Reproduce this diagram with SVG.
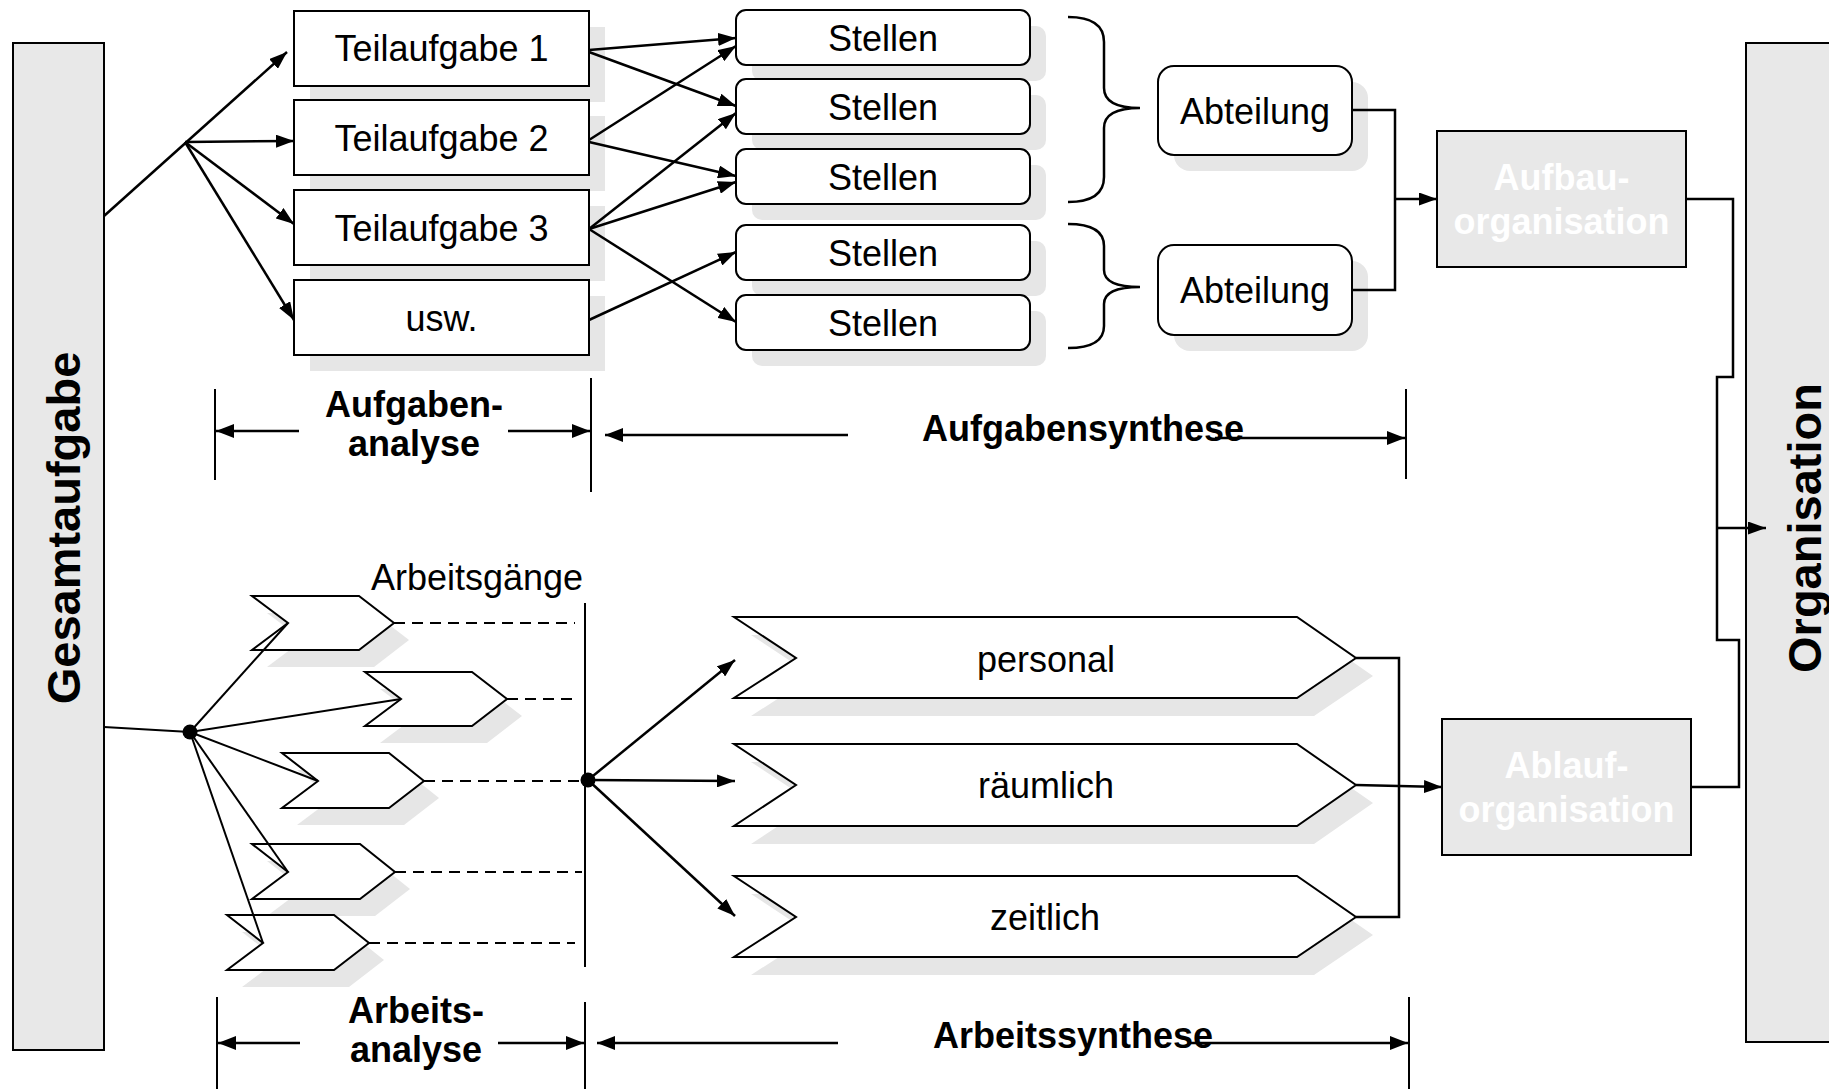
<svg xmlns="http://www.w3.org/2000/svg" width="1829" height="1089" viewBox="0 0 1829 1089">
  <defs>
    <marker id="arrow" viewBox="0 0 18 13" refX="18" refY="6.5" markerWidth="18" markerHeight="13" orient="auto" markerUnits="userSpaceOnUse">
      <path d="M0,0 L18,6.5 L0,13 Z" fill="#000"/>
    </marker>
    <marker id="arrow-lg" viewBox="0 0 18 14" refX="18" refY="7" markerWidth="18" markerHeight="14" orient="auto" markerUnits="userSpaceOnUse">
      <path d="M0,0 L18,7 L0,14 Z" fill="#000"/>
    </marker>
  </defs>
  <style>
    text { font-family: "Liberation Sans", Arial, sans-serif; fill: #000; }
    .lbl { font-size: 36px; text-anchor: middle; }
    .bold { font-weight: bold; }
    .white { fill: #fff; }
    .big { font-size: 47px; font-weight: bold; text-anchor: middle; }
    .box { fill: #fff; stroke: #000; stroke-width: 2; }
    .grey { fill: #e8e8e8; stroke: #000; stroke-width: 2; }
    .shadow { fill: #e6e6e6; }
    .chev { fill: #fff; stroke: #000; stroke-width: 2; }
    .ln { fill: none; stroke: #000; stroke-width: 2.5; }
    .thin { fill: none; stroke: #000; stroke-width: 2; }
    .dash { fill: none; stroke: #000; stroke-width: 2; stroke-dasharray: 11 7; }
    .arr { marker-end: url(#arrow); }
    .arr-lg { marker-end: url(#arrow-lg); }
  </style>

  <rect width="1829" height="1089" fill="#fff"/>

  <!-- Overall task and result columns -->
  <g id="gesamtaufgabe">
    <rect class="grey" x="13" y="43" width="91" height="1007"/>
    <text class="big" transform="translate(80,528) rotate(-90)">Gesamtaufgabe</text>
  </g>
  <g id="organisation">
    <rect class="grey" x="1746" y="43" width="100" height="999"/>
    <text class="big" transform="translate(1821,528) rotate(-90)">Organisation</text>
  </g>

  <!-- Sub-tasks -->
  <g id="teilaufgabe1">
    <rect class="shadow" x="310" y="27" width="295" height="75"/>
    <rect class="box" x="294" y="11" width="295" height="75"/>
    <text class="lbl" x="441.5" y="61">Teilaufgabe 1</text>
  </g>
  <g id="teilaufgabe2">
    <rect class="shadow" x="310" y="116" width="295" height="75"/>
    <rect class="box" x="294" y="100" width="295" height="75"/>
    <text class="lbl" x="441.5" y="150.5">Teilaufgabe 2</text>
  </g>
  <g id="teilaufgabe3">
    <rect class="shadow" x="310" y="206" width="295" height="75"/>
    <rect class="box" x="294" y="190" width="295" height="75"/>
    <text class="lbl" x="441.5" y="240.5">Teilaufgabe 3</text>
  </g>
  <g id="usw">
    <rect class="shadow" x="310" y="296" width="295" height="75"/>
    <rect class="box" x="294" y="280" width="295" height="75"/>
    <text class="lbl" x="441.5" y="330.5">usw.</text>
  </g>

  <!-- Positions -->
  <g id="stelle1">
    <rect class="shadow" x="752" y="26" width="294" height="55" rx="10"/>
    <rect class="box" x="736" y="10" width="294" height="55" rx="10"/>
    <text class="lbl" x="883" y="50.5">Stellen</text>
  </g>
  <g id="stelle2">
    <rect class="shadow" x="752" y="95" width="294" height="55" rx="10"/>
    <rect class="box" x="736" y="79" width="294" height="55" rx="10"/>
    <text class="lbl" x="883" y="119.5">Stellen</text>
  </g>
  <g id="stelle3">
    <rect class="shadow" x="752" y="165" width="294" height="55" rx="10"/>
    <rect class="box" x="736" y="149" width="294" height="55" rx="10"/>
    <text class="lbl" x="883" y="189.5">Stellen</text>
  </g>
  <g id="stelle4">
    <rect class="shadow" x="752" y="241" width="294" height="55" rx="10"/>
    <rect class="box" x="736" y="225" width="294" height="55" rx="10"/>
    <text class="lbl" x="883" y="265.5">Stellen</text>
  </g>
  <g id="stelle5">
    <rect class="shadow" x="752" y="311" width="294" height="55" rx="10"/>
    <rect class="box" x="736" y="295" width="294" height="55" rx="10"/>
    <text class="lbl" x="883" y="335.5">Stellen</text>
  </g>

  <!-- Braces grouping positions into departments -->
  <g id="klammer1">
    <path class="ln" d="M1068,17 Q1104,17 1104,42 L1104,88 Q1104,108 1140,108 Q1104,108 1104,128 L1104,177 Q1104,202 1068,202"/>
  </g>
  <g id="klammer2">
    <path class="ln" d="M1068,224 Q1104,224 1104,246 L1104,270 Q1104,287 1140,287 Q1104,287 1104,304 L1104,326 Q1104,348 1068,348"/>
  </g>

  <!-- Departments -->
  <g id="abteilung1">
    <rect class="shadow" x="1174" y="82" width="194" height="89" rx="16"/>
    <rect class="box" x="1158" y="66" width="194" height="89" rx="16"/>
    <text class="lbl" x="1255" y="123.5">Abteilung</text>
  </g>
  <g id="abteilung2">
    <rect class="shadow" x="1174" y="261" width="194" height="90" rx="16"/>
    <rect class="box" x="1158" y="245" width="194" height="90" rx="16"/>
    <text class="lbl" x="1255" y="303">Abteilung</text>
  </g>

  <!-- Structural and process organisation -->
  <g id="aufbauorganisation">
    <rect class="grey" x="1437" y="131" width="249" height="136"/>
    <text class="lbl bold white" x="1561.5" y="190">Aufbau-</text>
    <text class="lbl bold white" x="1561.5" y="234">organisation</text>
  </g>
  <g id="ablauforganisation">
    <rect class="grey" x="1442" y="719" width="249" height="136"/>
    <text class="lbl bold white" x="1566.5" y="778">Ablauf-</text>
    <text class="lbl bold white" x="1566.5" y="822">organisation</text>
  </g>

  <!-- Work steps -->
  <g id="arbeitsgaenge-label">
    <text class="lbl" x="477" y="590">Arbeitsgänge</text>
  </g>
  <g id="arbeitsgang1">
    <path class="shadow" transform="translate(15,17)" d="M252,596 H359 L394,623 L359,650 H252 L288,623 Z"/>
    <path class="chev" d="M252,596 H359 L394,623 L359,650 H252 L288,623 Z"/>
  </g>
  <g id="arbeitsgang2">
    <path class="shadow" transform="translate(15,17)" d="M365,672 H472 L507,699 L472,726 H365 L401,699 Z"/>
    <path class="chev" d="M365,672 H472 L507,699 L472,726 H365 L401,699 Z"/>
  </g>
  <g id="arbeitsgang3">
    <path class="shadow" transform="translate(15,17)" d="M282,753 H389 L424,781 L389,808 H282 L318,781 Z"/>
    <path class="chev" d="M282,753 H389 L424,781 L389,808 H282 L318,781 Z"/>
  </g>
  <g id="arbeitsgang4">
    <path class="shadow" transform="translate(15,17)" d="M252,844 H360 L395,872 L360,899 H252 L288,872 Z"/>
    <path class="chev" d="M252,844 H360 L395,872 L360,899 H252 L288,872 Z"/>
  </g>
  <g id="arbeitsgang5">
    <path class="shadow" transform="translate(15,17)" d="M227,915 H334 L369,943 L334,970 H227 L263,943 Z"/>
    <path class="chev" d="M227,915 H334 L369,943 L334,970 H227 L263,943 Z"/>
  </g>

  <!-- Synthesis dimensions -->
  <g id="personal">
    <path class="shadow" transform="translate(17,18)" d="M734,617 H1297 L1356,658 L1297,698 H734 L796,658 Z"/>
    <path class="chev" d="M734,617 H1297 L1356,658 L1297,698 H734 L796,658 Z"/>
    <text class="lbl" x="1046" y="672">personal</text>
  </g>
  <g id="raeumlich">
    <path class="shadow" transform="translate(17,18)" d="M734,744 H1297 L1356,785 L1297,826 H734 L796,785 Z"/>
    <path class="chev" d="M734,744 H1297 L1356,785 L1297,826 H734 L796,785 Z"/>
    <text class="lbl" x="1046" y="798">räumlich</text>
  </g>
  <g id="zeitlich">
    <path class="shadow" transform="translate(17,18)" d="M734,876 H1297 L1356,917 L1297,957 H734 L796,917 Z"/>
    <path class="chev" d="M734,876 H1297 L1356,917 L1297,957 H734 L796,917 Z"/>
    <text class="lbl" x="1045" y="930">zeitlich</text>
  </g>

  <!-- Phase labels -->
  <g id="aufgabenanalyse">
    <text class="lbl bold" x="414" y="417">Aufgaben-</text>
    <text class="lbl bold" x="414" y="456">analyse</text>
  </g>
  <g id="aufgabensynthese">
    <text class="lbl bold" x="1083" y="441">Aufgabensynthese</text>
  </g>
  <g id="arbeitsanalyse">
    <text class="lbl bold" x="416" y="1023">Arbeits-</text>
    <text class="lbl bold" x="416" y="1062">analyse</text>
  </g>
  <g id="arbeitssynthese">
    <text class="lbl bold" x="1073" y="1048">Arbeitssynthese</text>
  </g>

  <g id="connectors">
    <!-- task analysis fan-out -->
    <path class="ln arr" d="M104,216 L287,52"/>
    <path class="ln arr" d="M185,142 L294,141"/>
    <path class="ln arr" d="M185,142 L294,224"/>
    <path class="ln arr" d="M185,142 L294,320"/>

    <!-- sub-tasks to positions -->
    <path class="ln arr" d="M589,50 L736,38"/>
    <path class="ln arr" d="M589,52 L736,106"/>
    <path class="ln arr" d="M589,140 L736,46"/>
    <path class="ln arr" d="M589,142 L736,176"/>
    <path class="ln arr" d="M589,229 L736,113"/>
    <path class="ln arr" d="M589,229 L736,182"/>
    <path class="ln arr" d="M589,229 L736,322"/>
    <path class="ln arr" d="M589,320 L736,252"/>

    <!-- departments to structural organisation -->
    <path class="ln" d="M1352,110 H1395 V290 H1352"/>
    <path class="ln arr" d="M1395,199 H1437"/>

    <!-- both organisation forms to the result -->
    <path class="ln" d="M1686,199 H1733 V377 H1717 V640 H1739 V787 H1691"/>
    <path class="ln arr" d="M1717,528 H1766"/>

    <!-- work analysis fan-out -->
    <path class="thin" d="M104,727 L190,732"/>
    <path class="thin" d="M190,732 L288,623"/>
    <path class="thin" d="M190,732 L401,699"/>
    <path class="thin" d="M190,732 L318,781"/>
    <path class="thin" d="M190,732 L288,872"/>
    <path class="thin" d="M190,732 L263,943"/>
    <circle cx="190" cy="732" r="7.5" fill="#000"/>

    <path class="dash" d="M394,623 H575"/>
    <path class="dash" d="M507,699 H572"/>
    <path class="dash" d="M424,781 H585"/>
    <path class="dash" d="M395,872 H582"/>
    <path class="dash" d="M369,943 H575"/>
    <path class="thin" d="M585,603 V967"/>

    <!-- work synthesis fan-out -->
    <path class="ln arr" d="M588,780 L735,660"/>
    <path class="ln arr" d="M588,780 L735,781"/>
    <path class="ln arr" d="M588,780 L735,916"/>
    <circle cx="588" cy="780" r="7.5" fill="#000"/>

    <path class="ln" d="M1356,658 H1399 V917 H1356"/>
    <path class="ln arr" d="M1356,785 L1442,787"/>

    <!-- dimension lines, upper -->
    <path class="thin" d="M215,389 V480"/>
    <path class="thin" d="M591,378 V492"/>
    <path class="thin" d="M1406,389 V479"/>
    <path class="ln arr-lg" d="M299,431 H216"/>
    <path class="ln arr-lg" d="M508,431 H590"/>
    <path class="ln arr-lg" d="M848,435 H605"/>
    <path class="ln arr-lg" d="M1215,438 H1405"/>

    <!-- dimension lines, lower -->
    <path class="thin" d="M217,997 V1089"/>
    <path class="thin" d="M585,1002 V1089"/>
    <path class="thin" d="M1409,997 V1089"/>
    <path class="ln arr-lg" d="M300,1043 H218"/>
    <path class="ln arr-lg" d="M498,1043 H584"/>
    <path class="ln arr-lg" d="M838,1043 H597"/>
    <path class="ln arr-lg" d="M1190,1043 H1408"/>
  </g>
</svg>
